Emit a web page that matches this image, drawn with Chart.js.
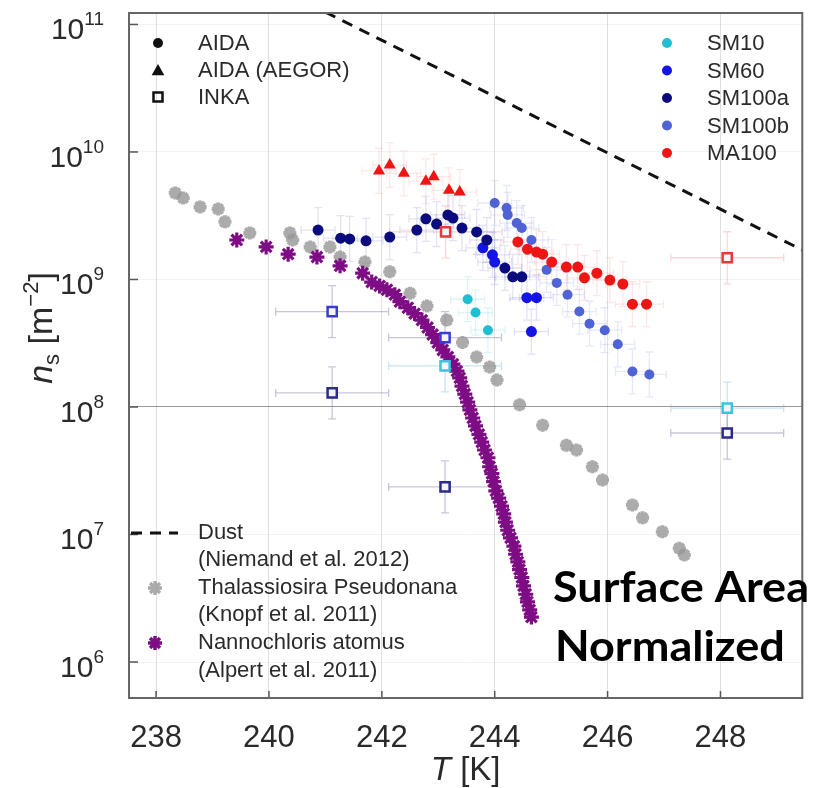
<!DOCTYPE html>
<html>
<head>
<meta charset="utf-8">
<script src="https://cdn.jsdelivr.net/npm/chart.js@4.4.0/dist/chart.umd.min.js"></script>
<style>
  html, body { margin: 0; padding: 0; background: #fff; }
  canvas { display: block; }
</style>
</head>
<body>
<canvas id="nsChart" width="813" height="788"></canvas>
<script>
// axis ticks
var xTicks = [238, 240, 242, 244, 246, 248];
var yExponents = [6, 7, 8, 9, 10, 11];

// AIDA chamber runs (T in K, ns in m^-2)
var sm10T  = [243.52, 243.66, 243.88];
var sm10Ns = [7.0e8, 5.5e8, 4.0e8];

var sm60T  = [243.79, 243.96, 244.00, 244.57, 244.74, 244.65];
var sm60Ns = [1.77e9, 1.56e9, 1.37e9, 7.2e8, 7.2e8, 3.9e8];

var sm100aT  = [240.87, 241.27, 241.43, 241.72, 242.14, 242.62, 242.78, 242.97, 243.17, 243.26, 243.42, 243.68, 243.86, 244.18, 244.32, 244.48];
var sm100aNs = [2.44e9, 2.11e9, 2.08e9, 2.01e9, 2.15e9, 2.44e9, 2.99e9, 2.72e9, 3.21e9, 3.03e9, 2.53e9, 2.36e9, 2.04e9, 1.23e9, 1.05e9, 1.05e9];

var sm100bT  = [244.00, 244.21, 244.23, 244.39, 244.48, 244.65, 244.92, 245.10, 245.29, 245.50, 245.68, 245.95, 246.18, 246.44, 246.74];
var sm100bNs = [3.98e9, 3.64e9, 3.21e9, 2.77e9, 2.53e9, 2.04e9, 1.19e9, 9.4e8, 7.6e8, 5.6e8, 4.5e8, 4.0e8, 3.1e8, 1.9e8, 1.8e8];

var ma100T  = [244.41, 244.58, 244.74, 244.85, 245.01, 245.27, 245.47, 245.59, 245.81, 246.04, 246.27, 246.44, 246.69];
var ma100Ns = [1.97e9, 1.73e9, 1.64e9, 1.58e9, 1.37e9, 1.25e9, 1.25e9, 1.03e9, 1.12e9, 9.9e8, 9.2e8, 6.4e8, 6.4e8];

// AIDA (AEGOR) MA100
var aegorT  = [241.95, 242.14, 242.39, 242.78, 242.92, 243.19, 243.38];
var aegorNs = [7.1e9, 7.9e9, 6.8e9, 5.9e9, 6.4e9, 5.0e9, 4.85e9];

// INKA
var inkaMa100T  = [243.13, 248.12];
var inkaMa100Ns = [2.36e9, 1.48e9];
var inkaSm60T   = [241.12, 243.12];
var inkaSm60Ns  = [5.6e8, 3.5e8];
var inkaSm100aT  = [241.12, 243.12, 248.12];
var inkaSm100aNs = [1.29e8, 2.36e7, 6.25e7];
var inkaSm10T   = [243.12, 248.12];
var inkaSm10Ns  = [2.1e8, 9.8e7];

// error bar half widths (K) and factors
var AIDA_T_ERR = 0.3, AIDA_NS_ERR = 1.5;
var INKA_T_ERR = 1.0, INKA_NS_ERR = 1.6;

// Niemand et al. 2012 dust parameterisation
var dustT  = [241.0, 249.5];
var dustNs = [1.25e11, 1.66e9];

// Knopf et al. 2011
var thalT  = [238.34, 238.48, 238.78, 239.10, 239.22, 239.66, 240.37, 240.42, 240.73, 241.08, 241.26, 241.70, 242.14, 242.50, 242.80, 243.15, 243.43, 243.68, 243.91, 244.04, 244.44, 244.85, 245.27, 245.45, 245.73, 245.91, 246.44, 246.62, 246.97, 247.27, 247.36];
var thalNs = [4.77e9, 4.35e9, 3.71e9, 3.57e9, 2.83e9, 2.32e9, 2.32e9, 2.04e9, 1.80e9, 1.80e9, 1.50e9, 1.37e9, 1.15e9, 7.8e8, 6.2e8, 4.8e8, 3.2e8, 2.47e8, 2.06e8, 1.63e8, 1.04e8, 7.2e7, 5.0e7, 4.6e7, 3.4e7, 2.67e7, 1.70e7, 1.35e7, 1.05e7, 7.8e6, 6.9e6];

// Alpert et al. 2011
var nannoT  = [239.43, 239.95, 240.34, 240.85, 241.26, 241.66, 241.82, 241.96, 242.09, 242.23, 242.32, 242.46, 242.58, 242.71, 242.81, 242.90, 242.99, 243.08, 243.17, 243.26, 243.33, 243.38, 243.42, 243.47, 243.52, 243.56, 243.61, 243.66, 243.72, 243.77, 243.82, 243.88, 243.91, 243.95, 243.98, 244.02, 244.07, 244.12, 244.16, 244.19, 244.23, 244.28, 244.34, 244.37, 244.41, 244.44, 244.48, 244.51, 244.55, 244.58, 244.62, 244.65];
var nannoNs = [2.04e9, 1.80e9, 1.58e9, 1.50e9, 1.28e9, 1.12e9, 9.55e8, 8.9e8, 8.3e8, 7.6e8, 6.7e8, 6.0e8, 5.4e8, 4.8e8, 4.2e8, 3.7e8, 3.2e8, 2.8e8, 2.47e8, 2.17e8, 1.91e8, 1.69e8, 1.46e8, 1.26e8, 1.09e8, 9.5e7, 8.2e7, 7.1e7, 6.1e7, 5.3e7, 4.6e7, 4.0e7, 3.4e7, 3.0e7, 2.6e7, 2.2e7, 1.93e7, 1.67e7, 1.45e7, 1.25e7, 1.08e7, 9.4e6, 8.1e6, 7.0e6, 6.1e6, 5.3e6, 4.6e6, 3.95e6, 3.4e6, 2.96e6, 2.56e6, 2.25e6];

var FONT = '"Liberation Sans", Arial, sans-serif';
var TEXT = '#2a2a2a';
var C = {
	sm10: '#1fbfd2', sm60: '#1414e6', sm100a: '#0b0b7e', sm100b: '#5063d4',
	red: '#ee1515', purple: '#7e0c84', gray: 'rgba(150,150,150,0.8)'
};

function pts(ts, ns) {
	return ts.map(function (t, i) { return { x: t, y: ns[i] }; });
}

function marker(ctx, style, x, y, r, color, lw) {
	ctx.save();
	ctx.fillStyle = color;
	ctx.strokeStyle = color;
	ctx.lineWidth = lw || 1;
	ctx.beginPath();
	if (style === 'circle') {
		ctx.arc(x, y, r, 0, Math.PI * 2);
		ctx.fill();
	} else if (style === 'triangle') {
		ctx.moveTo(x, y - r);
		ctx.lineTo(x + r * 0.9, y + r * 0.6);
		ctx.lineTo(x - r * 0.9, y + r * 0.6);
		ctx.closePath();
		ctx.fill();
	} else if (style === 'rect') {
		ctx.rect(x - r, y - r, 2 * r, 2 * r);
		ctx.stroke();
	} else if (style === 'star') {
		for (var k = 0; k < 4; k++) {
			var a = k * Math.PI / 4;
			ctx.moveTo(x - r * Math.cos(a), y - r * Math.sin(a));
			ctx.lineTo(x + r * Math.cos(a), y + r * Math.sin(a));
		}
		ctx.stroke();
	}
	ctx.restore();
}

// faint error bars behind the markers
var errorBars = {
	id: 'errorBars',
	beforeDatasetsDraw: function (chart) {
		var ctx = chart.ctx, a = chart.chartArea, xs = chart.scales.x, ys = chart.scales.y;
		ctx.save();
		ctx.beginPath();
		ctx.rect(a.left, a.top, a.right - a.left, a.bottom - a.top);
		ctx.clip();
		chart.data.datasets.forEach(function (ds) {
			if (!ds.errColor) return;
			ctx.strokeStyle = ds.errColor;
			ctx.lineWidth = 1.3;
			ds.data.forEach(function (p) {
				var px = xs.getPixelForValue(p.x), py = ys.getPixelForValue(p.y);
				var x0 = xs.getPixelForValue(p.x - ds.errT), x1 = xs.getPixelForValue(p.x + ds.errT);
				var y0 = ys.getPixelForValue(p.y / ds.errNs), y1 = ys.getPixelForValue(p.y * ds.errNs);
				ctx.beginPath();
				ctx.moveTo(x0, py); ctx.lineTo(x1, py);
				ctx.moveTo(px, y0); ctx.lineTo(px, y1);
				ctx.moveTo(x0, py - 4); ctx.lineTo(x0, py + 4);
				ctx.moveTo(x1, py - 4); ctx.lineTo(x1, py + 4);
				ctx.moveTo(px - 4, y0); ctx.lineTo(px + 4, y0);
				ctx.moveTo(px - 4, y1); ctx.lineTo(px + 4, y1);
				ctx.stroke();
			});
		});
		ctx.restore();
	}
};

function richText(ctx, parts, x, y, align) {
	var w = 0;
	parts.forEach(function (p) { ctx.font = p.f; p.w = ctx.measureText(p.t).width; w += p.w; });
	var xx = align === 'center' ? x - w / 2 : (align === 'right' ? x - w : x);
	parts.forEach(function (p) { ctx.font = p.f; ctx.fillText(p.t, xx, y + (p.dy || 0)); xx += p.w; });
}

// frame, tick labels, titles and the three legend blocks
var decorations = {
	id: 'decorations',
	afterDraw: function (chart) {
		var ctx = chart.ctx, a = chart.chartArea, xs = chart.scales.x, ys = chart.scales.y;
		ctx.save();

		// inner tick marks
		ctx.strokeStyle = '#555';
		ctx.lineWidth = 1.5;
		ys.ticks.forEach(function (t) {
			var py = ys.getPixelForValue(t.value);
			ctx.beginPath(); ctx.moveTo(a.left, py); ctx.lineTo(a.left + 9, py); ctx.stroke();
		});
		xs.ticks.forEach(function (t) {
			var px = xs.getPixelForValue(t.value);
			ctx.beginPath(); ctx.moveTo(px, a.bottom); ctx.lineTo(px, a.bottom - 7); ctx.stroke();
		});

		// frame
		ctx.strokeStyle = '#666';
		ctx.lineWidth = 2;
		ctx.strokeRect(a.left, a.top, a.right - a.left, a.bottom - a.top);

		ctx.fillStyle = TEXT;
		ctx.textBaseline = 'alphabetic';

		// y tick labels 10^n
		yExponents.forEach(function (e) {
			var py = ys.getPixelForValue(Math.pow(10, e));
			richText(ctx, [
				{ t: '10', f: '30px ' + FONT },
				{ t: String(e), f: '19px ' + FONT, dy: -14 }
			], 104, py + 15, 'right');
		});

		// x tick labels
		ctx.font = '31px ' + FONT;
		ctx.textAlign = 'center';
		xTicks.forEach(function (t) {
			ctx.fillText(String(t), xs.getPixelForValue(t), 747);
		});
		ctx.textAlign = 'left';

		// x title
		richText(ctx, [
			{ t: 'T', f: 'italic 33px ' + FONT },
			{ t: ' [K]', f: '33px ' + FONT }
		], (a.left + a.right) / 2, 780, 'center');

		// y title
		ctx.save();
		ctx.translate(40, 328);
		ctx.rotate(-Math.PI / 2);
		richText(ctx, [
			{ t: 'n', f: 'italic 34px ' + FONT },
			{ t: 's', f: '22px ' + FONT, dy: 7 },
			{ t: ' [m', f: '34px ' + FONT },
			{ t: '\u22122', f: '22px ' + FONT, dy: -14 },
			{ t: ']', f: '34px ' + FONT }
		], 0, 12, 'center');
		ctx.restore();

		// legend: facilities
		ctx.font = '22px ' + FONT;
		ctx.textBaseline = 'middle';
		marker(ctx, 'circle', 158, 43, 5, '#111');
		marker(ctx, 'triangle', 158, 71, 7, '#111');
		marker(ctx, 'rect', 158, 97, 4.5, '#111', 2.5);
		ctx.fillStyle = TEXT;
		ctx.fillText('AIDA', 198, 44);
		ctx.fillText('AIDA (AEGOR)', 198, 71);
		ctx.fillText('INKA', 198, 98);

		// legend: samples
		var samples = [['SM10', C.sm10], ['SM60', C.sm60], ['SM100a', C.sm100a], ['SM100b', C.sm100b], ['MA100', C.red]];
		samples.forEach(function (s, i) {
			var yy = 43 + i * 27.5;
			marker(ctx, 'circle', 667, yy, 5, s[1]);
			ctx.fillStyle = TEXT;
			ctx.fillText(s[0], 707, yy + 1);
		});

		// legend: literature
		ctx.save();
		ctx.strokeStyle = '#111';
		ctx.lineWidth = 3;
		ctx.setLineDash([11, 8]);
		ctx.beginPath(); ctx.moveTo(131, 533); ctx.lineTo(178, 533); ctx.stroke();
		ctx.restore();
		marker(ctx, 'star', 155, 588, 7, C.gray, 3.5);
		marker(ctx, 'star', 155, 643, 7, C.purple, 3.5);
		ctx.fillStyle = TEXT;
		ctx.fillText('Dust', 198, 533);
		ctx.fillText('(Niemand et al. 2012)', 198, 560);
		ctx.fillText('Thalassiosira Pseudonana', 198, 588);
		ctx.fillText('(Knopf et al. 2011)', 198, 615);
		ctx.fillText('Nannochloris atomus', 198, 643);
		ctx.fillText('(Alpert et al. 2011)', 198, 671);

		// caption
		ctx.textBaseline = 'alphabetic';
		ctx.fillStyle = '#000';
		ctx.font = 'bold 42px Lato, "Open Sans", sans-serif';
		var sx = 256 / ctx.measureText('Surface Area').width;
		ctx.save();
		ctx.translate(553, 602);
		ctx.scale(sx, 1);
		ctx.fillText('Surface Area', 0, 0);
		ctx.restore();
		ctx.save();
		ctx.translate(555, 661);
		ctx.scale(sx, 1);
		ctx.fillText('Normalized', 0, 0);
		ctx.restore();

		ctx.restore();
	}
};

function aidaSet(label, t, ns, style, color, r, errColor) {
	return {
		label: label, data: pts(t, ns), pointStyle: style, pointRadius: r,
		backgroundColor: color, borderColor: color, borderWidth: 0,
		errT: AIDA_T_ERR, errNs: AIDA_NS_ERR, errColor: errColor
	};
}

function inkaSet(label, t, ns, color, errColor) {
	return {
		label: label, data: pts(t, ns), pointStyle: 'rect', pointRadius: 6.5,
		backgroundColor: '#f4f4ff', borderColor: color, borderWidth: 2.5,
		errT: INKA_T_ERR, errNs: INKA_NS_ERR, errColor: errColor
	};
}

var datasets = [
	inkaSet('INKA MA100', inkaMa100T, inkaMa100Ns, '#e63a3a', 'rgba(240,140,140,0.35)'),
	inkaSet('INKA SM10', inkaSm10T, inkaSm10Ns, '#39c6dc', 'rgba(110,190,215,0.4)'),
	inkaSet('INKA SM60', inkaSm60T, inkaSm60Ns, '#3a3ad8', 'rgba(120,120,170,0.42)'),
	inkaSet('INKA SM100a', inkaSm100aT, inkaSm100aNs, '#2a2a8c', 'rgba(120,120,170,0.42)'),
	aidaSet('AIDA (AEGOR) MA100', aegorT, aegorNs, 'triangle', C.red, 7, 'rgba(240,80,80,0.13)'),
	aidaSet('MA100', ma100T, ma100Ns, 'circle', C.red, 5.5, 'rgba(240,80,80,0.14)'),
	aidaSet('SM100b', sm100bT, sm100bNs, 'circle', C.sm100b, 5, 'rgba(90,110,220,0.15)'),
	aidaSet('SM100a', sm100aT, sm100aNs, 'circle', C.sm100a, 5.5, 'rgba(60,60,170,0.14)'),
	aidaSet('SM60', sm60T, sm60Ns, 'circle', C.sm60, 5.5, 'rgba(40,40,255,0.14)'),
	aidaSet('SM10', sm10T, sm10Ns, 'circle', C.sm10, 5, 'rgba(30,190,210,0.16)'),
	{
		label: 'Nannochloris atomus', data: pts(nannoT, nannoNs), pointStyle: 'star',
		pointRadius: 7.5, borderWidth: 3.2, borderColor: C.purple, backgroundColor: C.purple
	},
	{
		label: 'Thalassiosira Pseudonana', data: pts(thalT, thalNs), pointStyle: 'star',
		pointRadius: 6.5, borderWidth: 4, borderColor: C.gray, backgroundColor: C.gray
	},
	{
		label: 'Dust', data: pts(dustT, dustNs), showLine: true, pointRadius: 0,
		borderColor: '#111', borderWidth: 3, borderDash: [11, 8], clip: 0
	}
];

var ctx = document.getElementById('nsChart').getContext('2d');
new Chart(ctx, {
	type: 'scatter',
	data: { datasets: datasets },
	options: {
		responsive: false,
		animation: false,
		events: [],
		layout: { padding: { left: 0, top: 13, right: 10, bottom: 0 } },
		plugins: { legend: { display: false }, tooltip: { enabled: false } },
		scales: {
			x: {
				type: 'linear', min: 237.52, max: 249.45,
				afterBuildTicks: function (s) { s.ticks = xTicks.map(function (v) { return { value: v }; }); },
				afterFit: function (s) { s.height = 90; },
				ticks: { display: false },
				grid: { drawTicks: false, color: 'rgba(0,0,0,0.12)', lineWidth: 1 },
				border: { display: false }
			},
			y: {
				type: 'logarithmic', min: 5.22e5, max: 1.23e11,
				afterBuildTicks: function (s) { s.ticks = yExponents.map(function (e) { return { value: Math.pow(10, e) }; }); },
				afterFit: function (s) { s.width = 129; },
				ticks: { display: false },
				grid: {
					drawTicks: false, lineWidth: 1,
					color: function (c) { return c.tick && c.tick.value === 1e8 ? 'rgba(0,0,0,0.4)' : 'rgba(0,0,0,0.05)'; }
				},
				border: { display: false }
			}
		}
	},
	plugins: [errorBars, decorations]
});
</script>
</body>
</html>
